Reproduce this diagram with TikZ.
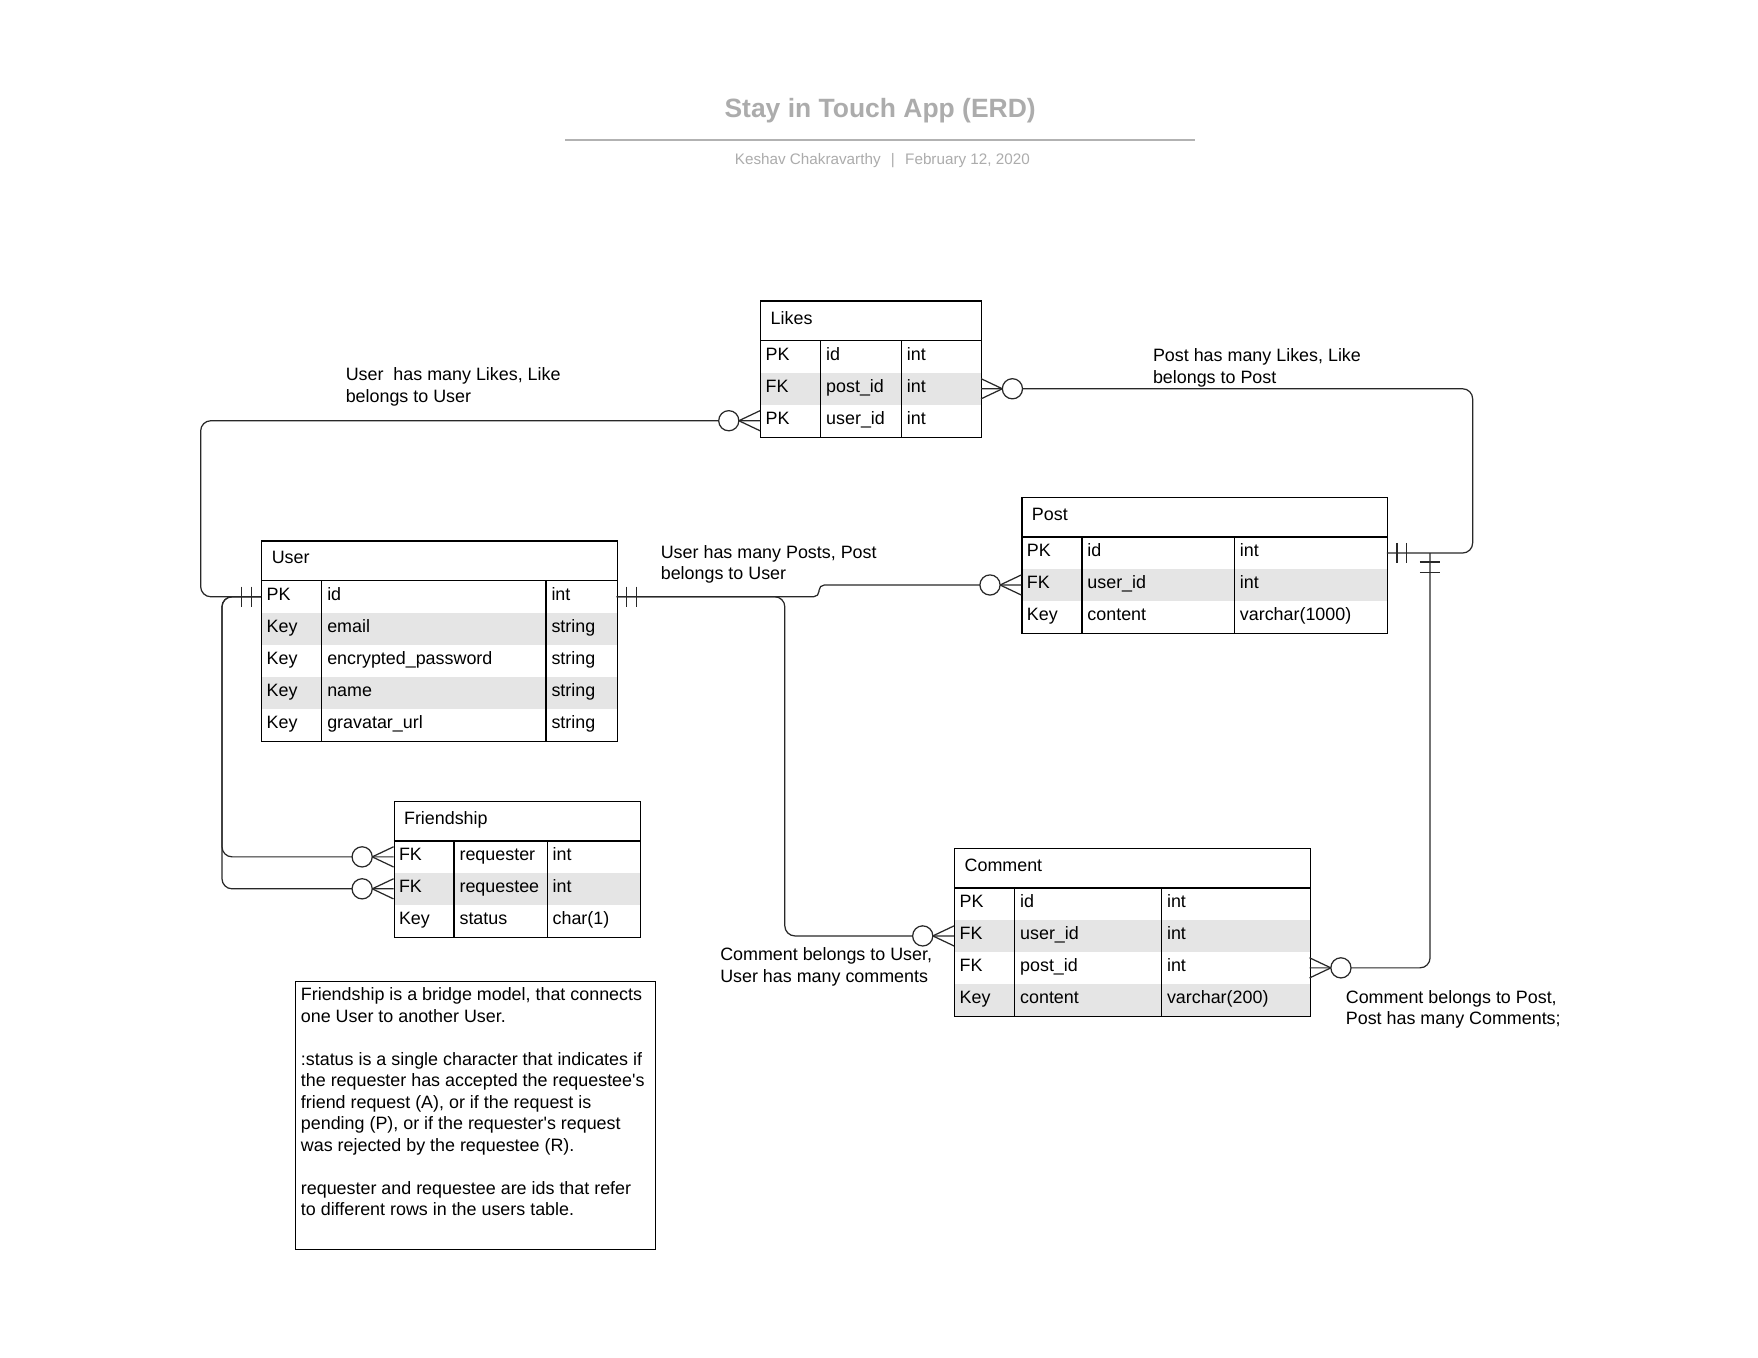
\documentclass[tikz,border=0pt]{standalone}
\usepackage{fontspec}
\setmainfont{Liberation Sans}
\usetikzlibrary{calc}
\definecolor{rowshade}{RGB}{229,229,229}
\definecolor{titlegray}{RGB}{172,172,172}
\definecolor{linegray}{RGB}{178,178,178}
\definecolor{conncol}{RGB}{40,40,40}
\tikzset{
  txt/.style={font=\fontsize{7.98pt}{9.6pt}\selectfont, inner sep=0pt, anchor=base west},
  cell/.style={txt},
  hdrtext/.style={txt},
  tablebox/.style={draw, line width=0.55pt, inner sep=0pt, anchor=north west},
  border/.style={line width=0.55pt},
  conn/.style={draw=conncol, line width=0.55pt},
  zcircle/.style={circle, draw=conncol, line width=0.55pt, fill=white, minimum size=9pt, inner sep=0pt},
}
\newcommand\mylines[1]{\vtop{\baselineskip=9.6pt\lineskiplimit=-10pt\halign{##\hfil\cr#1\crcr}}}
% #1 name #2 left #3 top #4 col1 #5 col2 #6 right #7 title #8 rows
\newcommand{\erdtable}[8]{%
  \foreach [count=\i] \k/\f/\t in {#8} {%
    \pgfmathsetmacro\ya{#3+36+(\i-1)*28.5}%
    \pgfmathsetmacro\ym{\ya+14.25}%
    \ifodd\i\else\fill[rowshade] (#2,\ya) rectangle (#6,\ya+28.5);\fi
    \coordinate (#1-\i-w) at (#2,\ym);
    \coordinate (#1-\i-e) at (#6,\ym);
    \node[cell] (#1-\i-k) at (#2+4.5,\ym+3.3) {\k};
    \node[cell] (#1-\i-f) at (#4+4.5,\ym+3.3) {\f};
    \node[cell] (#1-\i-t) at (#5+4.5,\ym+3.3) {\t};
    \xdef\erdn{\i}%
  }%
  \pgfmathsetmacro\erdw{(#6-#2)*0.5}%
  \pgfmathsetmacro\erdh{(36+\erdn*28.5)*0.5}%
  \node[tablebox, minimum width=\erdw pt, minimum height=\erdh pt] (#1) at (#2,#3) {};
  \draw[border] (#2,#3+36) -- (#6,#3+36);
  \draw[border] (#4,#3+36) -- (#4,#3+36+\erdn*28.5);
  \draw[border] (#5,#3+36) -- (#5,#3+36+\erdn*28.5);
  \node[hdrtext] (#1-title) at (#2+9,#3+21) {#7};
}
% crow's foot with zero circle; #2 = +1 right, -1 left
\newcommand\crow[2]{%
  \draw[conn] ($(#1)+(0,-9)$) -- ($(#1)+(#2*19,0)$) -- ($(#1)+(0,9)$);
  \node[zcircle] (#1-o) at ($(#1)+(#2*28,0)$) {};
}
\newcommand\bars[2]{%
  \draw[conn] ($(#1)+(#2*9,-9)$) -- ++(0,18);
  \draw[conn] ($(#1)+(#2*17.5,-9)$) -- ++(0,18);
}
\begin{document}
\begin{tikzpicture}[x=0.5pt, y=-0.5pt]
\fill[white] (0,0) rectangle (1568,1211);
\useasboundingbox (0,0) rectangle (1568,1211);

% title block
\node[font=\bfseries\fontsize{11.8pt}{14pt}\selectfont, text=titlegray, anchor=base, inner sep=0pt] (title) at (785,105) {Stay in Touch App (ERD)};
\coordinate (tl-a) at (504,125);
\coordinate (tl-b) at (1066,125);
\draw[linegray, line width=1.2pt] (tl-a) -- (tl-b);
\node[font=\fontsize{6.8pt}{8pt}\selectfont, text=titlegray, anchor=base, inner sep=0pt] (subtitle) at (787,146.5) {Keshav Chakravarthy\hspace{4.6pt}|\hspace{4.6pt}February 12, 2020};

% tables
\erdtable{likes}{678}{268}{732}{804}{875}{Likes}{PK/id/int, FK/post\_id/int, PK/user\_id/int}
\erdtable{user}{233}{482}{287}{487}{550}{User}{PK/id/int, Key/email/string, Key/encrypted\_password/string, Key/name/string, Key/gravatar\_url/string}
\erdtable{post}{911}{443}{965}{1101}{1237}{Post}{PK/id/int, FK/user\_id/int, Key/content/varchar(1000)}
\erdtable{friend}{351}{714}{405}{488}{571}{Friendship}{FK/requester/int, FK/requestee/int, Key/status/char(1)}
\erdtable{comment}{851}{756}{905}{1036}{1168}{Comment}{PK/id/int, FK/user\_id/int, FK/post\_id/int, Key/content/varchar(200)}

% connectors
\draw[conn, rounded corners=4.5pt] (likes-3-w) -| ($(user-1-w)+(-54,0)$) -- (user-1-w);
\draw[conn, rounded corners=4.5pt] (user-1-w) -| ($(friend-1-w)+(-153,0)$) -- (friend-1-w);
\draw[conn, rounded corners=4.5pt] (user-1-w) -| ($(friend-2-w)+(-153,0)$) -- (friend-2-w);
\draw[conn, rounded corners=4.5pt] (user-1-e) -| ($(comment-2-w)+(-151,0)$) -- (comment-2-w);
\coordinate (jog) at ($(user-1-e)!0.5!(post-2-w)$);
\draw[conn, rounded corners=2.4pt] (user-1-e) -- (user-1-e -| jog) -- (post-2-w -| jog) -- (post-2-w);
\draw[conn, rounded corners=4.5pt] (post-1-e) -- ++(76.5,0) |- (likes-2-e);
\coordinate (pcj) at ($(post-1-e)+(38.5,0)$);
\draw[conn, rounded corners=4.5pt] (pcj) |- (comment-3-e);

% cardinality marks
\bars{user-1-w}{-1}
\bars{user-1-e}{1}
\bars{post-1-e}{1}
\draw[conn] ($(pcj)+(-9,8)$) -- ++(18,0);
\draw[conn] ($(pcj)+(-9,17.5)$) -- ++(18,0);
\crow{likes-3-w}{-1}
\crow{likes-2-e}{1}
\crow{post-2-w}{-1}
\crow{friend-1-w}{-1}
\crow{friend-2-w}{-1}
\crow{comment-2-w}{-1}
\crow{comment-3-e}{1}

% labels
\node[txt] (lbl-ul) at (308,339.5) {\mylines{User\ \ has many Likes, Like\cr belongs to User}};
\node[txt] (lbl-pl) at (1028,322.5) {\mylines{Post has many Likes, Like\cr belongs to Post}};
\node[txt] (lbl-up) at (589,498) {\mylines{User has many Posts, Post\cr belongs to User}};
\node[txt] (lbl-cu) at (642,857) {\mylines{Comment belongs to User,\cr User has many comments}};
\node[txt] (lbl-cp) at (1200,895) {\mylines{Comment belongs to Post,\cr Post has many Comments;}};

% note
\node[draw, line width=0.55pt, anchor=north west, minimum width=160.5pt, minimum height=119.5pt, inner sep=0pt] (note) at (263,875) {};
\node[txt] (note-text) at (268,892.5) {\mylines{Friendship is a bridge model, that connects\cr
one User to another User.\cr
\cr
:status is a single character that indicates if\cr
the requester has accepted the requestee\textquotesingle s\cr
friend request (A), or if the request is\cr
pending (P), or if the requester\textquotesingle s request\cr
was rejected by the requestee (R).\cr
\cr
requester and requestee are ids that refer\cr
to different rows in the users table.}};
\end{tikzpicture}
\end{document}
